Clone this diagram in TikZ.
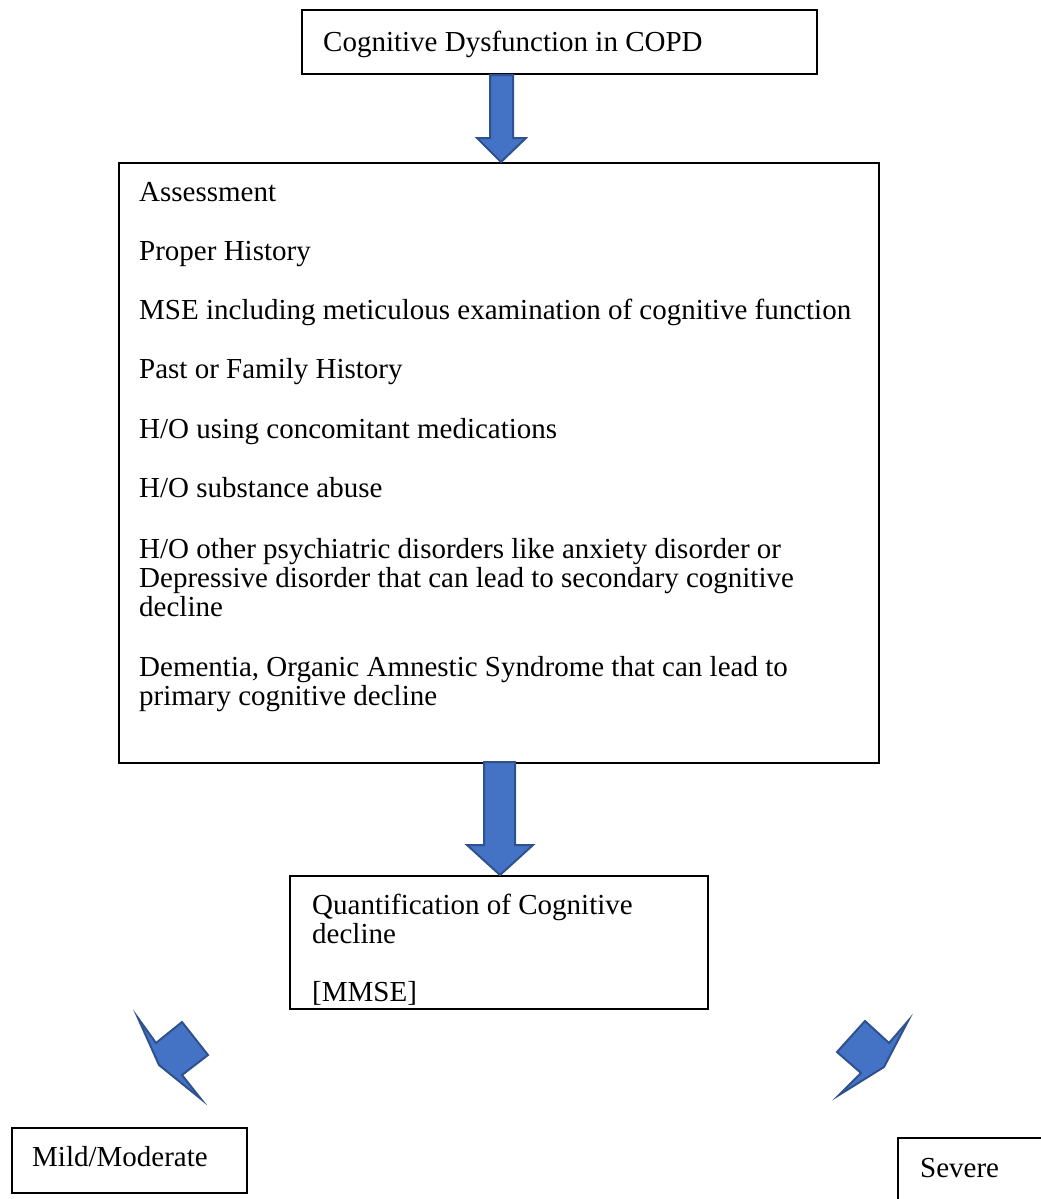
\documentclass[tikz,border=0pt]{standalone}
\usepackage{fontspec}
\setmainfont{Liberation Serif}
\definecolor{arrowblue}{RGB}{68,114,196}
\definecolor{arrowedge}{RGB}{47,82,143}
\begin{document}
\begin{tikzpicture}[x=1pt,y=-1pt,
  box/.style={draw=black, line width=1.3pt, fill=white, inner sep=0pt},
  txt/.style={anchor=base west, inner sep=0pt, font=\fontsize{29}{29}\selectfont},
  blockarrow/.style={fill=arrowblue, draw=arrowedge, line width=2pt, line join=miter}]
\useasboundingbox (0,0) rectangle (1041,1199);
\clip (0,0) rectangle (1041,1199);

% boxes
\draw[box] (302,10) rectangle (817,74);
\draw[box] (119,163) rectangle (879,763);
\draw[box] (290,876) rectangle (708,1009);
\draw[box] (12,1128) rectangle (247,1193);
\draw[box] (898,1138) rectangle (1080,1240);

% texts
\node[txt] (title) at (323,52) {Cognitive Dysfunction in COPD};

\node[txt] (a1)  at (139,201) {Assessment};
\node[txt] (a2)  at (139,260) {Proper History};
\node[txt] (a3)  at (139,319) {MSE including meticulous examination of cognitive function};
\node[txt] (a4)  at (139,378) {Past or Family History};
\node[txt] (a5)  at (139,438) {H/O using concomitant medications};
\node[txt] (a6)  at (139,497) {H/O substance abuse};
\node[txt] (a7)  at (139,558) {H/O other psychiatric disorders like anxiety disorder or};
\node[txt] (a8)  at (139,587) {Depressive disorder that can lead to secondary cognitive};
\node[txt] (a9)  at (139,616) {decline};
\node[txt] (a10) at (139,676) {Dementia, Organic Amnestic Syndrome that can lead to};
\node[txt] (a11) at (139,705) {primary cognitive decline};

\node[txt] (q1) at (312,914) {Quantification of Cognitive};
\node[txt] (q2) at (312,943) {decline};
\node[txt] (q3) at (312,1001) {[MMSE]};

\node[txt] (mild) at (32,1166) {Mild/Moderate};
\node[txt] (sev)  at (920,1177) {Severe};

% block arrows
\draw[blockarrow] (490,75) -- (513,75) -- (513,138) -- (526,138) -- (501,162)
  -- (477,138) -- (490,138) -- cycle;
\draw[blockarrow] (484,762) -- (515,762) -- (515,845) -- (533,845) -- (500,875)
  -- (467,845) -- (484,845) -- cycle;
\draw[blockarrow] (138,1018) -- (156,1043) -- (182,1022) -- (208,1055)
  -- (182,1075) -- (201,1099) -- (159,1065) -- cycle;
\draw[blockarrow] (908,1021) -- (889,1043) -- (865,1021) -- (837,1052)
  -- (861,1073) -- (839,1095) -- (884,1067) -- cycle;
\end{tikzpicture}
\end{document}
